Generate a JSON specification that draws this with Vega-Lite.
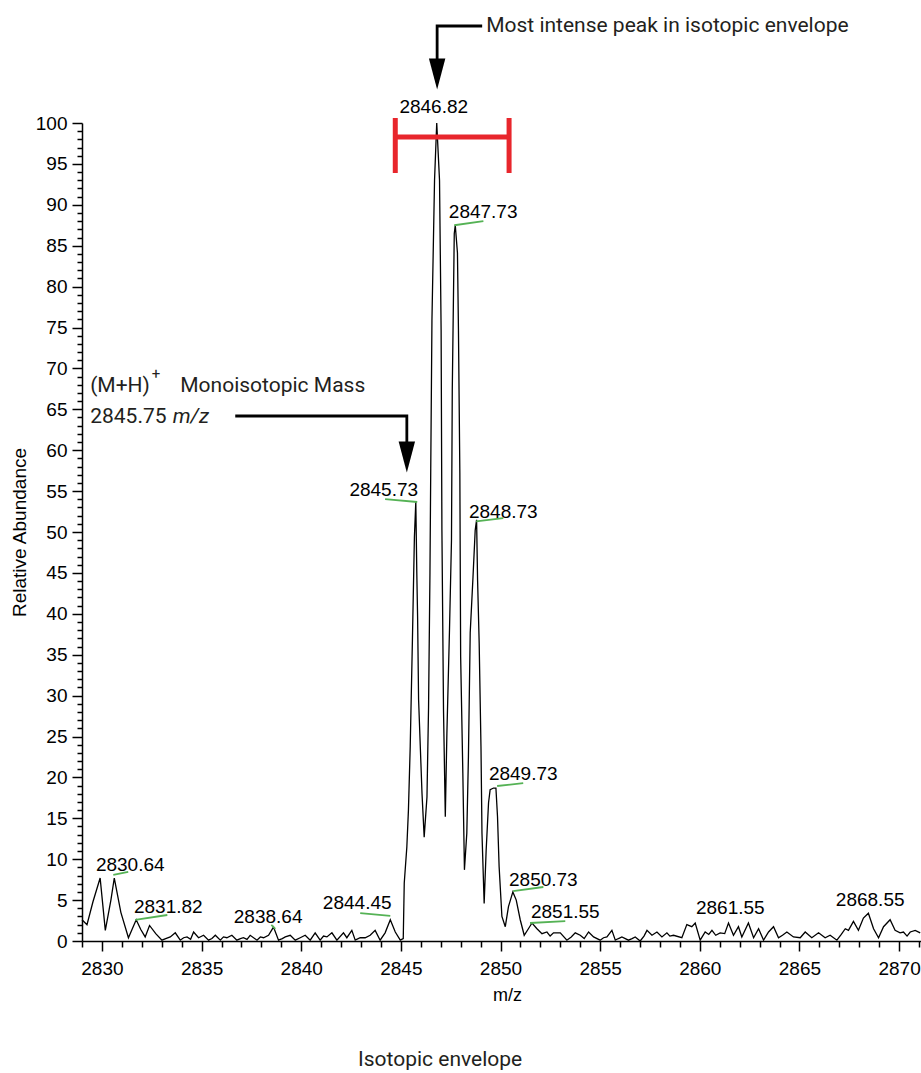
{
  "$schema": "https://vega.github.io/schema/vega-lite/v6.json",
  "width": 839,
  "height": 818,
  "autosize": {"type": "none"},
  "padding": {"left": 82, "top": 123, "right": 0, "bottom": 132},
  "background": "white",
  "config": {
    "view": {"stroke": null},
    "axis": {"domainColor": "black", "tickColor": "black", "labelColor": "black", "titleColor": "black", "grid": false, "labelFont": "Liberation Sans", "titleFont": "Liberation Sans", "titleFontWeight": "normal", "domainWidth": 1.5, "tickWidth": 1.5}
  },
  "datasets": {
    "spectrum": [
      {"mz": 2829.00, "ab": 2.6}, {"mz": 2829.25, "ab": 2.0}, {"mz": 2829.55, "ab": 4.8}, {"mz": 2829.91, "ab": 7.7},
      {"mz": 2830.17, "ab": 1.3}, {"mz": 2830.45, "ab": 5.0}, {"mz": 2830.62, "ab": 7.7}, {"mz": 2830.95, "ab": 3.5},
      {"mz": 2831.33, "ab": 0.4}, {"mz": 2831.72, "ab": 2.6}, {"mz": 2831.95, "ab": 1.4}, {"mz": 2832.17, "ab": 0.5},
      {"mz": 2832.39, "ab": 1.9}, {"mz": 2832.70, "ab": 0.9}, {"mz": 2833.01, "ab": 0.1}, {"mz": 2833.20, "ab": 0.3},
      {"mz": 2833.43, "ab": 0.5}, {"mz": 2833.68, "ab": 1.0}, {"mz": 2833.93, "ab": 0.1}, {"mz": 2834.10, "ab": 0.4},
      {"mz": 2834.27, "ab": 0.5}, {"mz": 2834.45, "ab": 0.2}, {"mz": 2834.60, "ab": 1.1}, {"mz": 2834.85, "ab": 0.4},
      {"mz": 2835.10, "ab": 0.7}, {"mz": 2835.35, "ab": 0.1}, {"mz": 2835.52, "ab": 0.3}, {"mz": 2835.69, "ab": 0.7},
      {"mz": 2835.94, "ab": 0.1}, {"mz": 2836.10, "ab": 0.5}, {"mz": 2836.27, "ab": 0.4}, {"mz": 2836.52, "ab": 0.7},
      {"mz": 2836.77, "ab": 0.1}, {"mz": 2836.95, "ab": 0.3}, {"mz": 2837.10, "ab": 0.4}, {"mz": 2837.28, "ab": 0.2},
      {"mz": 2837.44, "ab": 0.7}, {"mz": 2837.78, "ab": 0.1}, {"mz": 2837.95, "ab": 0.5}, {"mz": 2838.11, "ab": 0.4},
      {"mz": 2838.36, "ab": 0.7}, {"mz": 2838.61, "ab": 1.7}, {"mz": 2838.86, "ab": 0.1}, {"mz": 2839.05, "ab": 0.3},
      {"mz": 2839.20, "ab": 0.5}, {"mz": 2839.45, "ab": 0.7}, {"mz": 2839.70, "ab": 0.1}, {"mz": 2839.95, "ab": 0.4},
      {"mz": 2840.20, "ab": 0.7}, {"mz": 2840.45, "ab": 0.1}, {"mz": 2840.70, "ab": 1.0}, {"mz": 2840.95, "ab": 0.1},
      {"mz": 2841.12, "ab": 0.6}, {"mz": 2841.29, "ab": 0.5}, {"mz": 2841.54, "ab": 1.0}, {"mz": 2841.79, "ab": 0.1},
      {"mz": 2842.12, "ab": 1.0}, {"mz": 2842.29, "ab": 0.4}, {"mz": 2842.54, "ab": 1.3}, {"mz": 2842.71, "ab": 0.1},
      {"mz": 2842.96, "ab": 0.4}, {"mz": 2843.21, "ab": 0.4}, {"mz": 2843.46, "ab": 0.7}, {"mz": 2843.71, "ab": 1.3},
      {"mz": 2843.96, "ab": 0.1}, {"mz": 2844.21, "ab": 1.0}, {"mz": 2844.47, "ab": 2.6}, {"mz": 2844.72, "ab": 1.1},
      {"mz": 2844.97, "ab": 0.1}, {"mz": 2845.12, "ab": 0.3},
      {"mz": 2845.17, "ab": 7.1}, {"mz": 2845.30, "ab": 11.5}, {"mz": 2845.38, "ab": 16.0}, {"mz": 2845.47, "ab": 23.8},
      {"mz": 2845.58, "ab": 36.8}, {"mz": 2845.68, "ab": 49.4}, {"mz": 2845.75, "ab": 53.7}, {"mz": 2845.80, "ab": 45.0},
      {"mz": 2845.84, "ab": 39.6}, {"mz": 2845.89, "ab": 29.5}, {"mz": 2846.06, "ab": 18.1}, {"mz": 2846.17, "ab": 12.7},
      {"mz": 2846.31, "ab": 17.6}, {"mz": 2846.39, "ab": 28.6}, {"mz": 2846.46, "ab": 45.0}, {"mz": 2846.50, "ab": 57.8},
      {"mz": 2846.56, "ab": 75.9}, {"mz": 2846.69, "ab": 93.0}, {"mz": 2846.80, "ab": 100.0}, {"mz": 2846.94, "ab": 93.0},
      {"mz": 2847.02, "ab": 74.7}, {"mz": 2847.06, "ab": 50.2}, {"mz": 2847.14, "ab": 28.2}, {"mz": 2847.23, "ab": 15.2},
      {"mz": 2847.31, "ab": 25.4}, {"mz": 2847.44, "ab": 38.0}, {"mz": 2847.54, "ab": 49.0}, {"mz": 2847.58, "ab": 67.4},
      {"mz": 2847.68, "ab": 86.5}, {"mz": 2847.73, "ab": 87.5}, {"mz": 2847.84, "ab": 84.1}, {"mz": 2847.89, "ab": 74.7},
      {"mz": 2847.96, "ab": 57.2}, {"mz": 2848.00, "ab": 34.8}, {"mz": 2848.11, "ab": 20.5}, {"mz": 2848.19, "ab": 8.7},
      {"mz": 2848.31, "ab": 13.2}, {"mz": 2848.39, "ab": 22.5}, {"mz": 2848.48, "ab": 37.7}, {"mz": 2848.62, "ab": 44.5},
      {"mz": 2848.73, "ab": 50.2}, {"mz": 2848.80, "ab": 51.5}, {"mz": 2848.85, "ab": 44.1}, {"mz": 2848.93, "ab": 36.4},
      {"mz": 2849.02, "ab": 23.8}, {"mz": 2849.07, "ab": 13.2}, {"mz": 2849.18, "ab": 4.6},
      {"mz": 2849.28, "ab": 11.1}, {"mz": 2849.40, "ab": 16.9}, {"mz": 2849.48, "ab": 18.5}, {"mz": 2849.65, "ab": 18.7},
      {"mz": 2849.77, "ab": 18.7}, {"mz": 2849.85, "ab": 15.2}, {"mz": 2849.93, "ab": 9.1}, {"mz": 2850.07, "ab": 3.0},
      {"mz": 2850.24, "ab": 1.75}, {"mz": 2850.40, "ab": 4.2}, {"mz": 2850.62, "ab": 6.0}, {"mz": 2850.79, "ab": 5.0},
      {"mz": 2850.99, "ab": 2.6}, {"mz": 2851.19, "ab": 0.7}, {"mz": 2851.40, "ab": 1.5}, {"mz": 2851.58, "ab": 2.2},
      {"mz": 2851.83, "ab": 1.5}, {"mz": 2852.08, "ab": 0.9}, {"mz": 2852.33, "ab": 1.1}, {"mz": 2852.49, "ab": 0.6},
      {"mz": 2852.66, "ab": 1.0}, {"mz": 2853.00, "ab": 1.0}, {"mz": 2853.33, "ab": 0.1}, {"mz": 2853.55, "ab": 0.5},
      {"mz": 2853.75, "ab": 1.0}, {"mz": 2854.00, "ab": 0.7}, {"mz": 2854.20, "ab": 0.3}, {"mz": 2854.42, "ab": 1.1},
      {"mz": 2854.67, "ab": 0.5}, {"mz": 2855.00, "ab": 0.1}, {"mz": 2855.17, "ab": 0.4}, {"mz": 2855.34, "ab": 0.5},
      {"mz": 2855.59, "ab": 1.3}, {"mz": 2855.76, "ab": 0.1}, {"mz": 2855.92, "ab": 0.3}, {"mz": 2856.09, "ab": 0.5},
      {"mz": 2856.42, "ab": 0.1}, {"mz": 2856.60, "ab": 0.3}, {"mz": 2856.76, "ab": 0.5}, {"mz": 2857.01, "ab": 0.0},
      {"mz": 2857.20, "ab": 0.6}, {"mz": 2857.35, "ab": 1.3}, {"mz": 2857.60, "ab": 0.7}, {"mz": 2857.85, "ab": 1.1},
      {"mz": 2858.10, "ab": 0.5}, {"mz": 2858.35, "ab": 1.0}, {"mz": 2858.50, "ab": 0.6}, {"mz": 2858.68, "ab": 0.7},
      {"mz": 2859.10, "ab": 0.4}, {"mz": 2859.35, "ab": 2.0}, {"mz": 2859.60, "ab": 1.75}, {"mz": 2859.77, "ab": 2.2},
      {"mz": 2860.02, "ab": 0.1}, {"mz": 2860.27, "ab": 1.1}, {"mz": 2860.45, "ab": 0.8}, {"mz": 2860.61, "ab": 1.3},
      {"mz": 2860.80, "ab": 0.7}, {"mz": 2861.02, "ab": 1.0}, {"mz": 2861.25, "ab": 0.9}, {"mz": 2861.44, "ab": 2.2},
      {"mz": 2861.69, "ab": 0.7}, {"mz": 2861.94, "ab": 1.75}, {"mz": 2862.11, "ab": 0.5}, {"mz": 2862.44, "ab": 2.2},
      {"mz": 2862.70, "ab": 0.4}, {"mz": 2862.95, "ab": 1.5}, {"mz": 2863.20, "ab": 0.1}, {"mz": 2863.45, "ab": 1.1},
      {"mz": 2863.70, "ab": 1.75}, {"mz": 2863.95, "ab": 0.4}, {"mz": 2864.15, "ab": 0.7}, {"mz": 2864.37, "ab": 1.1},
      {"mz": 2864.70, "ab": 0.5}, {"mz": 2865.04, "ab": 0.4}, {"mz": 2865.29, "ab": 1.1}, {"mz": 2865.62, "ab": 0.4},
      {"mz": 2865.96, "ab": 1.0}, {"mz": 2866.29, "ab": 0.4}, {"mz": 2866.54, "ab": 0.7}, {"mz": 2866.88, "ab": 0.1},
      {"mz": 2867.10, "ab": 0.8}, {"mz": 2867.30, "ab": 1.5}, {"mz": 2867.46, "ab": 1.3}, {"mz": 2867.71, "ab": 2.4},
      {"mz": 2867.96, "ab": 1.3}, {"mz": 2868.21, "ab": 2.8}, {"mz": 2868.46, "ab": 3.4}, {"mz": 2868.72, "ab": 1.5},
      {"mz": 2868.97, "ab": 0.4}, {"mz": 2869.22, "ab": 1.75}, {"mz": 2869.55, "ab": 2.6}, {"mz": 2869.80, "ab": 1.3},
      {"mz": 2870.05, "ab": 1.0}, {"mz": 2870.22, "ab": 1.1}, {"mz": 2870.40, "ab": 0.6}, {"mz": 2870.56, "ab": 1.1},
      {"mz": 2870.81, "ab": 1.3}, {"mz": 2871.06, "ab": 1.0}
    ],
    "peakLabels": [
      {"mz": 2831.42, "ab": 9.29, "label": "2830.64"},
      {"mz": 2833.33, "ab": 4.16, "label": "2831.82"},
      {"mz": 2838.34, "ab": 2.93, "label": "2838.64"},
      {"mz": 2842.81, "ab": 4.65, "label": "2844.45"},
      {"mz": 2844.14, "ab": 55.13, "label": "2845.73"},
      {"mz": 2846.65, "ab": 101.9, "label": "2846.82"},
      {"mz": 2849.13, "ab": 89.16, "label": "2847.73"},
      {"mz": 2850.14, "ab": 52.48, "label": "2848.73"},
      {"mz": 2851.14, "ab": 20.42, "label": "2849.73"},
      {"mz": 2852.15, "ab": 7.46, "label": "2850.73"},
      {"mz": 2853.25, "ab": 3.58, "label": "2851.55"},
      {"mz": 2861.53, "ab": 4.03, "label": "2861.55"},
      {"mz": 2868.55, "ab": 5.01, "label": "2868.55"}
    ],
    "greenLines": [
      {"mz": 2830.57, "mz2": 2831.32, "ab": 8.07, "ab2": 8.44},
      {"mz": 2831.67, "mz2": 2833.28, "ab": 2.57, "ab2": 3.18},
      {"mz": 2838.50, "mz2": 2838.70, "ab": 1.96, "ab2": 1.47},
      {"mz": 2842.96, "mz2": 2844.47, "ab": 3.42, "ab2": 3.06},
      {"mz": 2844.21, "mz2": 2845.82, "ab": 54.03, "ab2": 53.67},
      {"mz": 2847.68, "mz2": 2849.14, "ab": 87.5, "ab2": 88.0},
      {"mz": 2848.78, "mz2": 2850.14, "ab": 51.3, "ab2": 51.7},
      {"mz": 2849.83, "mz2": 2851.14, "ab": 18.95, "ab2": 19.3},
      {"mz": 2850.63, "mz2": 2852.15, "ab": 6.1, "ab2": 6.6},
      {"mz": 2851.48, "mz2": 2853.25, "ab": 2.2, "ab2": 2.44}
    ],
    "bracket": [
      {"mz": 2844.72, "mz2": 2850.43, "ab": 98.29, "ab2": 98.29},
      {"mz": 2844.72, "mz2": 2844.72, "ab": 93.89, "ab2": 100.61},
      {"mz": 2850.43, "mz2": 2850.43, "ab": 93.89, "ab2": 100.61}
    ],
    "arrows": [
      {"arrow": "a", "o": 1, "mz": 2849.08, "ab": 111.86},
      {"arrow": "a", "o": 2, "mz": 2846.82, "ab": 111.86},
      {"arrow": "a", "o": 3, "mz": 2846.82, "ab": 106.5},
      {"arrow": "b", "o": 1, "mz": 2836.69, "ab": 64.18},
      {"arrow": "b", "o": 2, "mz": 2845.30, "ab": 64.18},
      {"arrow": "b", "o": 3, "mz": 2845.30, "ab": 60.0}
    ],
    "heads": [
      {"mz": 2846.82, "ab": 105.99},
      {"mz": 2845.30, "ab": 59.17}
    ],
    "notes": [
      {"mz": 2849.28, "ab": 111.1, "text": "Most intense peak in isotopic envelope"},
      {"mz": 2829.41, "ab": 67.1, "text": "(M+H)"},
      {"mz": 2833.93, "ab": 67.1, "text": "Monoisotopic Mass"},
      {"mz": 2829.41, "ab": 63.3, "text": "2845.75"}
    ],
    "notesItalic": [
      {"mz": 2833.55, "ab": 63.3, "text": "m/z"}
    ],
    "notesSup": [
      {"mz": 2832.50, "ab": 68.7, "text": "+"}
    ],
    "caption": [
      {"mz": 2846.97, "ab": -15.28, "text": "Isotopic envelope"}
    ]
  },
  "layer": [
    {
      "data": {"name": "spectrum"},
      "mark": {"type": "line", "color": "black", "strokeWidth": 1.3, "interpolate": "linear"},
      "encoding": {
        "x": {"field": "mz", "type": "quantitative", "sort": null,
          "scale": {"domain": [2829, 2871.1], "nice": false, "zero": false},
          "axis": {"orient": "bottom", "tickCount": 1000, "values": [2829, 2830, 2831, 2832, 2833, 2834, 2835, 2836, 2837, 2838, 2839, 2840, 2841, 2842, 2843, 2844, 2845, 2846, 2847, 2848, 2849, 2850, 2851, 2852, 2853, 2854, 2855, 2856, 2857, 2858, 2859, 2860, 2861, 2862, 2863, 2864, 2865, 2866, 2867, 2868, 2869, 2870, 2871],
            "format": "d", "labelExpr": "datum.value % 5 === 0 ? datum.label : ''",
            "tickSize": {"condition": {"test": "datum.value % 5 === 0", "value": 10}, "value": 6},
            "labelFontSize": 19, "labelPadding": 8, "labelFlush": false, "labelOverlap": false,
            "title": "m/z", "titleFontSize": 18, "titleX": 425, "titleY": 54, "titleAlign": "center", "titleBaseline": "middle"}},
        "y": {"field": "ab", "type": "quantitative",
          "scale": {"domain": [0, 100], "nice": false, "zero": true},
          "axis": {"orient": "left", "tickCount": 1000, "values": [0, 1, 2, 3, 4, 5, 6, 7, 8, 9, 10, 11, 12, 13, 14, 15, 16, 17, 18, 19, 20, 21, 22, 23, 24, 25, 26, 27, 28, 29, 30, 31, 32, 33, 34, 35, 36, 37, 38, 39, 40, 41, 42, 43, 44, 45, 46, 47, 48, 49, 50, 51, 52, 53, 54, 55, 56, 57, 58, 59, 60, 61, 62, 63, 64, 65, 66, 67, 68, 69, 70, 71, 72, 73, 74, 75, 76, 77, 78, 79, 80, 81, 82, 83, 84, 85, 86, 87, 88, 89, 90, 91, 92, 93, 94, 95, 96, 97, 98, 99, 100],
            "format": "d", "labelExpr": "datum.value % 5 === 0 ? datum.label : ''",
            "tickSize": {"condition": {"test": "datum.value % 5 === 0", "value": 10}, "value": 5},
            "labelFontSize": 19, "labelPadding": 5, "labelFlush": false, "labelOverlap": false,
            "title": "Relative Abundance", "titleFontSize": 19, "titleAngle": -90, "titleX": -63, "titleY": 409, "titleAlign": "center", "titleBaseline": "middle"}}
      }
    },
    {
      "data": {"name": "greenLines"},
      "mark": {"type": "rule", "color": "#55b255", "strokeWidth": 1.8},
      "encoding": {
        "x": {"field": "mz", "type": "quantitative", "scale": {"domain": [2829, 2871.1], "nice": false, "zero": false}},
        "x2": {"field": "mz2"},
        "y": {"field": "ab", "type": "quantitative", "scale": {"domain": [0, 100], "nice": false}},
        "y2": {"field": "ab2"}
      }
    },
    {
      "data": {"name": "peakLabels"},
      "mark": {"type": "text", "font": "Liberation Sans", "fontSize": 19, "color": "black", "align": "center", "baseline": "middle"},
      "encoding": {
        "x": {"field": "mz", "type": "quantitative", "scale": {"domain": [2829, 2871.1], "nice": false, "zero": false}},
        "y": {"field": "ab", "type": "quantitative", "scale": {"domain": [0, 100], "nice": false}},
        "text": {"field": "label", "type": "nominal"}
      }
    },
    {
      "data": {"name": "bracket"},
      "mark": {"type": "rule", "color": "#e8262c", "strokeWidth": 5, "strokeCap": "butt"},
      "encoding": {
        "x": {"field": "mz", "type": "quantitative", "scale": {"domain": [2829, 2871.1], "nice": false, "zero": false}},
        "x2": {"field": "mz2"},
        "y": {"field": "ab", "type": "quantitative", "scale": {"domain": [0, 100], "nice": false}},
        "y2": {"field": "ab2"}
      }
    },
    {
      "data": {"name": "arrows"},
      "mark": {"type": "line", "color": "black", "strokeWidth": 2.8},
      "encoding": {
        "x": {"field": "mz", "type": "quantitative", "scale": {"domain": [2829, 2871.1], "nice": false, "zero": false}},
        "y": {"field": "ab", "type": "quantitative", "scale": {"domain": [0, 100], "nice": false}},
        "detail": {"field": "arrow", "type": "nominal"},
        "order": {"field": "o", "type": "quantitative"}
      }
    },
    {
      "data": {"name": "heads"},
      "mark": {"type": "point", "shape": "M-0.53,-1L0.53,-1L0,1Z", "size": 961, "filled": true, "color": "black", "opacity": 1},
      "encoding": {
        "x": {"field": "mz", "type": "quantitative", "scale": {"domain": [2829, 2871.1], "nice": false, "zero": false}},
        "y": {"field": "ab", "type": "quantitative", "scale": {"domain": [0, 100], "nice": false}}
      }
    },
    {
      "data": {"name": "notes"},
      "mark": {"type": "text", "font": "Roboto", "fontSize": 21, "color": "#231f20", "align": "left", "baseline": "alphabetic"},
      "encoding": {
        "x": {"field": "mz", "type": "quantitative", "scale": {"domain": [2829, 2871.1], "nice": false, "zero": false}},
        "y": {"field": "ab", "type": "quantitative", "scale": {"domain": [0, 100], "nice": false}},
        "text": {"field": "text", "type": "nominal"}
      }
    },
    {
      "data": {"name": "notesItalic"},
      "mark": {"type": "text", "font": "Roboto", "fontSize": 21, "fontStyle": "italic", "color": "#231f20", "align": "left", "baseline": "alphabetic"},
      "encoding": {
        "x": {"field": "mz", "type": "quantitative", "scale": {"domain": [2829, 2871.1], "nice": false, "zero": false}},
        "y": {"field": "ab", "type": "quantitative", "scale": {"domain": [0, 100], "nice": false}},
        "text": {"field": "text", "type": "nominal"}
      }
    },
    {
      "data": {"name": "notesSup"},
      "mark": {"type": "text", "font": "Roboto", "fontSize": 15, "color": "#231f20", "align": "left", "baseline": "alphabetic"},
      "encoding": {
        "x": {"field": "mz", "type": "quantitative", "scale": {"domain": [2829, 2871.1], "nice": false, "zero": false}},
        "y": {"field": "ab", "type": "quantitative", "scale": {"domain": [0, 100], "nice": false}},
        "text": {"field": "text", "type": "nominal"}
      }
    },
    {
      "data": {"name": "caption"},
      "mark": {"type": "text", "font": "Roboto", "fontSize": 21, "color": "#231f20", "align": "center", "baseline": "alphabetic"},
      "encoding": {
        "x": {"field": "mz", "type": "quantitative", "scale": {"domain": [2829, 2871.1], "nice": false, "zero": false}},
        "y": {"field": "ab", "type": "quantitative", "scale": {"domain": [0, 100], "nice": false}},
        "text": {"field": "text", "type": "nominal"}
      }
    }
  ]
}
